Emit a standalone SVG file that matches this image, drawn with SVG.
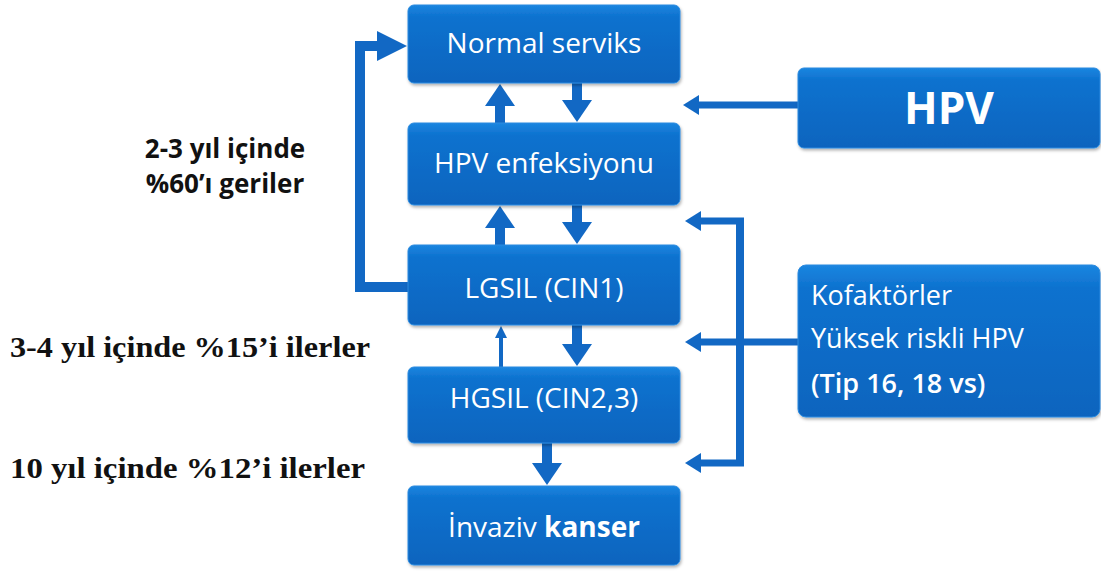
<svg xmlns="http://www.w3.org/2000/svg" width="1101" height="574" viewBox="0 0 1101 574">
<defs>
<linearGradient id="bg" x1="0" y1="0" x2="0" y2="1">
<stop offset="0" stop-color="#1b86e0"/>
<stop offset="0.15" stop-color="#0e72cf"/>
<stop offset="1" stop-color="#0a64be"/>
</linearGradient>
<filter id="sh" x="-5%" y="-5%" width="110%" height="120%">
<feDropShadow dx="1" dy="2" stdDeviation="1.5" flood-color="#000" flood-opacity="0.3"/>
</filter>
<marker id="big" viewBox="0 0 22 30" refX="10" refY="15" markerWidth="22" markerHeight="30" orient="auto" markerUnits="userSpaceOnUse">
<path d="M0,0 L22,15 L0,30 z" fill="#1268c4"/>
</marker>
<marker id="med" viewBox="0 0 16 20" refX="6" refY="10" markerWidth="16" markerHeight="20" orient="auto" markerUnits="userSpaceOnUse">
<path d="M0,0 L16,10 L0,20 z" fill="#1268c4"/>
</marker>
<marker id="sm" viewBox="0 0 12 12" refX="4" refY="6" markerWidth="12" markerHeight="12" orient="auto" markerUnits="userSpaceOnUse">
<path d="M0,0 L12,6 L0,12 z" fill="#1268c4"/>
</marker>
<marker id="loop" viewBox="0 0 30 30" refX="14" refY="15" markerWidth="30" markerHeight="30" orient="auto" markerUnits="userSpaceOnUse">
<path d="M0,0 L30,15 L0,30 z" fill="#1268c4"/>
</marker>
</defs>
<style>
.box{fill:url(#bg);stroke:#2a8ae0;stroke-width:1;filter:url(#sh)}
.t{font-family:"Open Sans","Liberation Sans",sans-serif;font-size:28px;fill:#fff;text-anchor:middle}
.k{font-family:"Open Sans","Liberation Sans",sans-serif;font-size:27px;fill:#fff}
.c{stroke:#1268c4;stroke-width:10;fill:none}
.h{stroke:#1268c4;stroke-width:7;fill:none}
.lb{font-family:"Open Sans","Liberation Sans",sans-serif;font-weight:bold;font-size:26px;fill:#111;text-anchor:middle}
.ls{font-family:"Liberation Serif",serif;font-weight:bold;font-size:30px;fill:#111}
</style>
<g id="connectors">
<line class="c" x1="500" y1="123" x2="500" y2="96" marker-end="url(#big)"/>
<line class="c" x1="577" y1="83" x2="577" y2="110" marker-end="url(#big)"/>
<line class="c" x1="500" y1="245" x2="500" y2="218" marker-end="url(#big)"/>
<line class="c" x1="577" y1="205" x2="577" y2="232" marker-end="url(#big)"/>
<line class="c" style="stroke-width:4" x1="501" y1="367" x2="501" y2="334" marker-end="url(#sm)"/>
<line class="c" x1="577" y1="325" x2="577" y2="354" marker-end="url(#big)"/>
<line class="c" x1="547" y1="443" x2="547" y2="473" marker-end="url(#big)"/>
<line class="h" x1="798" y1="105" x2="693" y2="105" marker-end="url(#med)"/>
<polyline class="c" points="408,287 360,287 360,46 391,46" marker-end="url(#loop)"/>
<line class="h" style="stroke-width:8" x1="740" y1="221" x2="740" y2="463"/>
<line class="h" x1="744" y1="221" x2="695" y2="221" marker-end="url(#med)"/>
<line class="h" x1="798" y1="342" x2="695" y2="342" marker-end="url(#med)"/>
<line class="h" x1="744" y1="463" x2="695" y2="463" marker-end="url(#med)"/>
</g>
<g id="normal"><rect class="box" x="408" y="5" width="272" height="78" rx="6"/><text class="t" x="544" y="53">Normal serviks</text></g>
<g id="hpvenf"><rect class="box" x="408" y="123" width="272" height="82" rx="6"/><text class="t" x="544" y="173">HPV enfeksiyonu</text></g>
<g id="lgsil"><rect class="box" x="408" y="245" width="272" height="80" rx="6"/><text class="t" x="544" y="298">LGSIL (CIN1)</text></g>
<g id="hgsil"><rect class="box" x="408" y="367" width="272" height="76" rx="6"/><text class="t" x="544" y="408">HGSIL (CIN2,3)</text></g>
<g id="invaziv"><rect class="box" x="408" y="486" width="272" height="79" rx="6"/><text class="t" x="544" y="537">İnvaziv <tspan font-weight="bold">kanser</tspan></text></g>
<g id="hpv"><rect class="box" x="798" y="68" width="302" height="80" rx="6"/><text class="t" x="949" y="124" style="font-size:44px;font-weight:bold">HPV</text></g>
<g id="kofaktor"><rect class="box" x="798" y="265" width="302" height="152" rx="8"/>
<text class="k" x="811" y="305">Kofaktörler</text>
<text class="k" x="811" y="348">Yüksek riskli HPV</text>
<text class="k" style="font-weight:600" x="811" y="393">(Tip 16, 18 vs)</text>
</g>
<g id="labels">
<text class="lb" x="225" y="158">2-3 yıl içinde</text>
<text class="lb" x="225" y="193">%60’ı geriler</text>
<text class="ls" x="10" y="357" textLength="360" lengthAdjust="spacingAndGlyphs">3-4 yıl içinde %15’i ilerler</text>
<text class="ls" x="10" y="478" textLength="355" lengthAdjust="spacingAndGlyphs">10 yıl içinde %12’i ilerler</text>
</g>
</svg>
